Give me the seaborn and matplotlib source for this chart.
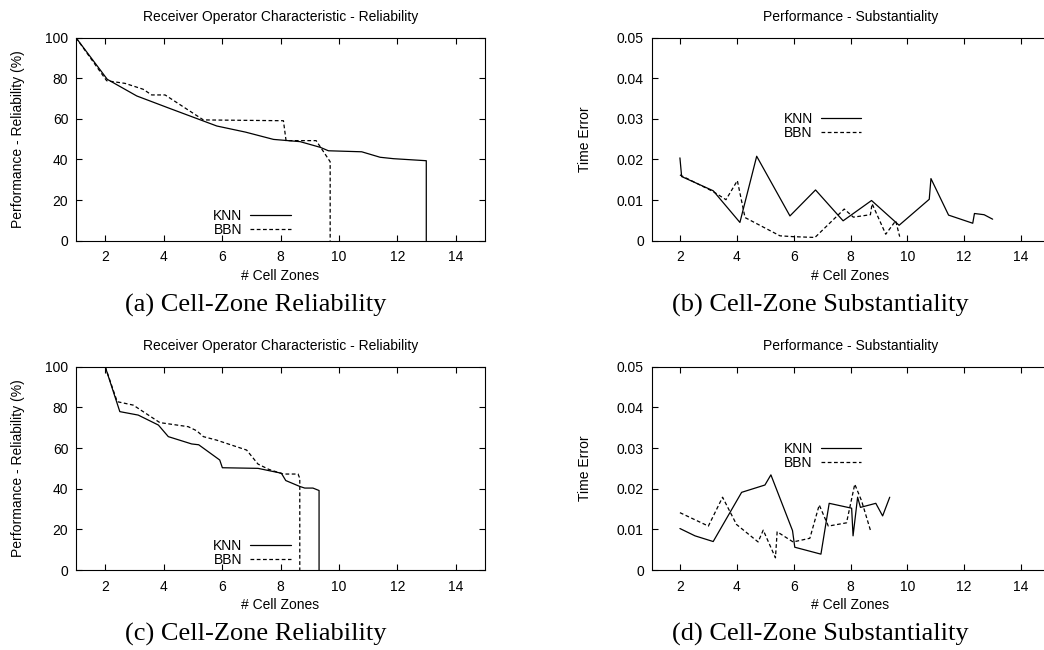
import matplotlib
matplotlib.use("Agg")
import matplotlib.pyplot as plt
import seaborn as sns

# ---------------- data ----------------
# (a) reliability, set 1
a_knn_x = [1.0, 2.07, 3.08, 4.2, 5.82, 6.8, 7.76, 8.67, 9.36, 9.64, 10.78, 11.41, 11.87, 12.99, 12.99]
a_knn_y = [100, 79.5, 71.3, 65.2, 56.5, 53.5, 49.9, 48.8, 46.0, 44.3, 43.8, 41.1, 40.4, 39.4, 0]
a_bbn_x = [1.0, 2.05, 2.68, 3.3, 3.59, 4.05, 5.36, 8.1, 8.19, 9.22, 9.7, 9.7]
a_bbn_y = [100, 78.8, 77.5, 74.6, 71.8, 71.8, 59.5, 59.1, 49.3, 49.3, 38.9, 0]

# (b) substantiality, set 1
b_knn_x = [2.0, 2.06, 3.17, 4.11, 4.7, 5.87, 6.77, 7.74, 8.74, 9.71, 10.77, 10.83, 11.45, 12.3, 12.36, 12.7, 13.0]
b_knn_y = [0.0204, 0.0158, 0.0123, 0.0045, 0.0208, 0.0061, 0.0125, 0.0049, 0.0099, 0.0038,
           0.0102, 0.0153, 0.0063, 0.0043, 0.0067, 0.0064, 0.0053]
b_bbn_x = [2.0, 3.17, 3.62, 4.02, 4.29, 5.52, 5.98, 6.75, 7.78, 8.1, 8.7, 8.76, 9.24, 9.59, 9.73]
b_bbn_y = [0.0162, 0.0121, 0.0101, 0.0148, 0.0057, 0.0012, 0.0010, 0.0008, 0.0078, 0.0058,
           0.0064, 0.0091, 0.0016, 0.0049, 0.0010]

# (c) reliability, set 2
c_knn_x = [2.0, 2.5, 3.13, 3.82, 4.16, 4.96, 5.2, 5.92, 6.01, 7.23, 8.03, 8.18, 8.66, 8.83, 9.11, 9.32, 9.32]
c_knn_y = [100, 77.9, 76.2, 71.3, 65.6, 62.0, 61.6, 54.1, 50.3, 50.0, 47.6, 44.0, 41.1, 40.3, 40.3, 39.1, 0]
c_bbn_x = [2.0, 2.41, 2.96, 3.87, 4.21, 4.84, 5.13, 5.36, 5.81, 6.84, 7.23, 7.6, 8.09, 8.6, 8.66, 8.66]
c_bbn_y = [100, 82.8, 81.1, 72.5, 71.8, 70.5, 68.5, 65.6, 63.9, 59.0, 52.1, 49.5, 47.2, 47.2, 45.1, 0]

# (d) substantiality, set 2
d_knn_x = [2.0, 2.53, 3.17, 4.17, 4.99, 5.2, 5.96, 6.04, 6.96, 7.25, 8.04, 8.09, 8.25, 8.35, 8.89, 9.13, 9.38]
d_knn_y = [0.0102, 0.0084, 0.0070, 0.0191, 0.0209, 0.0234, 0.0097, 0.0056, 0.0039, 0.0164,
           0.0152, 0.0084, 0.0179, 0.0154, 0.0164, 0.0133, 0.0179]
d_bbn_x = [2.0, 3.0, 3.5, 3.99, 4.75, 4.93, 5.36, 5.42, 5.98, 6.57, 6.9, 7.22, 7.86, 8.15, 8.39, 8.7]
d_bbn_y = [0.0141, 0.0108, 0.0179, 0.0112, 0.0069, 0.0098, 0.0030, 0.0094, 0.0069, 0.0078,
           0.0160, 0.0108, 0.0116, 0.0211, 0.0170, 0.0098]

x_ticks = [2, 4, 6, 8, 10, 12, 14]
x_tick_labels = ["2", "4", "6", "8", "10", "12", "14"]
rel_ticks = [0, 20, 40, 60, 80, 100]
rel_tick_labels = ["0", "20", "40", "60", "80", "100"]
sub_ticks = [0, 0.01, 0.02, 0.03, 0.04, 0.05]
sub_tick_labels = ["0", "0.01", "0.02", "0.03", "0.04", "0.05"]

rel_title = "Receiver Operator Characteristic - Reliability"
sub_title = "Performance - Substantiality"
rel_ylabel = "Performance - Reliability (%)"
sub_ylabel = "Time Error"
xlabel = "# Cell Zones"
captions = ["(a) Cell-Zone Reliability", "(b) Cell-Zone Substantiality",
            "(c) Cell-Zone Reliability", "(d) Cell-Zone Substantiality"]

# ---------------- style ----------------
sns.set_style("white")
plt.rcParams['font.family'] = ['Liberation Sans', 'DejaVu Sans']
plt.rcParams['axes.linewidth'] = 0.8
plt.rcParams['text.color'] = 'black'
plt.rcParams['axes.labelcolor'] = 'black'
plt.rcParams['xtick.color'] = 'black'
plt.rcParams['ytick.color'] = 'black'

W, H = 1044, 650
fig = plt.figure(figsize=(W / 100, H / 100), dpi=100)
fig.patch.set_facecolor("white")


def make_axes(left_px, top_px, width_px, height_px):
    return fig.add_axes([left_px / W, 1 - (top_px + height_px) / H, width_px / W, height_px / H])


def style_axes(ax, yticks, ylabels, ylim, title, ylabel, ylab_x):
    ax.set_xlim(1, 15)
    ax.set_ylim(*ylim)
    ax.set_xticks(x_ticks)
    ax.set_xticklabels(x_tick_labels)
    ax.set_yticks(yticks)
    ax.set_yticklabels(ylabels)
    ax.tick_params(axis='both', direction='in', length=4, width=0.8, colors='black',
                   labelsize=10, top=True, right=True, bottom=True, left=True)
    ax.tick_params(axis='x', pad=7)
    ax.tick_params(axis='y', pad=5.5)
    for s in ax.spines.values():
        s.set_visible(True)
        s.set_color('black')
        s.set_linewidth(0.8)
    ax.set_title(title, fontsize=10, pad=12, color='black')
    ax.set_xlabel(xlabel, fontsize=10, labelpad=3, color='black')
    ax.set_ylabel(ylabel, fontsize=10, color='black')
    ax.yaxis.set_label_coords(ylab_x, 0.5)


def draw(ax, kx, ky, bx, by, leg_xy):
    sns.lineplot(x=kx, y=ky, ax=ax, sort=False, estimator=None, color='black',
                 linewidth=0.9, label='KNN')
    sns.lineplot(x=bx, y=by, ax=ax, sort=False, estimator=None, color='black',
                 linewidth=0.9, linestyle=(0, (3, 2)), label='BBN')
    leg = ax.legend(loc='center', bbox_to_anchor=leg_xy, frameon=False, markerfirst=False,
                    fontsize=10, handlelength=2.9, handletextpad=0.6, labelspacing=0.0,
                    borderpad=0, borderaxespad=0)
    for t in leg.get_texts():
        t.set_color('black')


ax_a = make_axes(76, 37.7, 409, 203)
ax_b = make_axes(651.5, 37.7, 398, 203)
ax_c = make_axes(76, 366.7, 409, 203.3)
ax_d = make_axes(651.5, 366.7, 398, 203.3)

draw(ax_a, a_knn_x, a_knn_y, a_bbn_x, a_bbn_y, (0.4296, 0.0857))
draw(ax_b, b_knn_x, b_knn_y, b_bbn_x, b_bbn_y, (0.4296, 0.566))
draw(ax_c, c_knn_x, c_knn_y, c_bbn_x, c_bbn_y, (0.4296, 0.082))
draw(ax_d, d_knn_x, d_knn_y, d_bbn_x, d_bbn_y, (0.4296, 0.562))

style_axes(ax_a, rel_ticks, rel_tick_labels, (0, 100), rel_title, rel_ylabel, -0.125)
style_axes(ax_b, sub_ticks, sub_tick_labels, (0, 0.05), sub_title, sub_ylabel, -0.15)
style_axes(ax_c, rel_ticks, rel_tick_labels, (0, 100), rel_title, rel_ylabel, -0.125)
style_axes(ax_d, sub_ticks, sub_tick_labels, (0, 0.05), sub_title, sub_ylabel, -0.15)

cap_font = dict(fontsize=19, family=['Liberation Serif', 'DejaVu Serif'], ha='center',
                va='center', color='black')
fig.text(255.5 / W, 1 - 305.5 / H, captions[0], **cap_font)
fig.text(820 / W, 1 - 305.5 / H, captions[1], **cap_font)
fig.text(255.5 / W, 1 - 634.8 / H, captions[2], **cap_font)
fig.text(820 / W, 1 - 634.8 / H, captions[3], **cap_font)

fig.savefig("out.png", dpi=100, facecolor="white")
